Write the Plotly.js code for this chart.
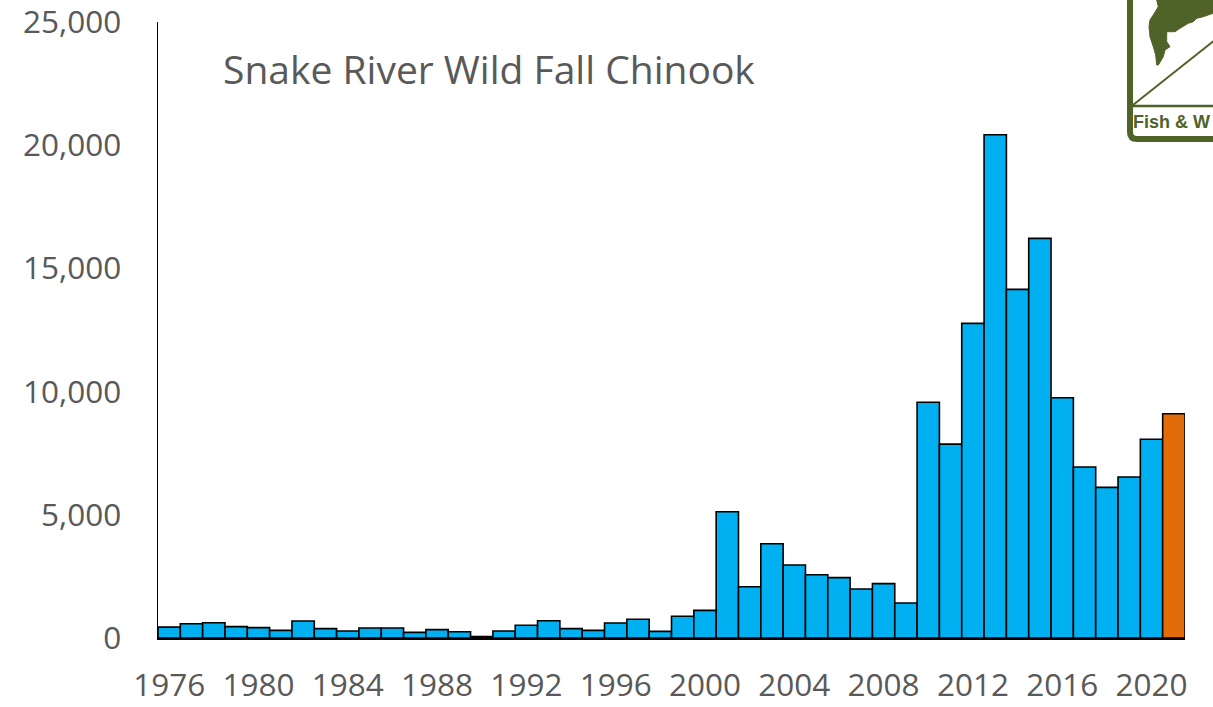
<!DOCTYPE html>
<html>
<head>
<meta charset="utf-8">
<script src="https://cdn.plot.ly/plotly-3.0.1.min.js"></script>
<style>html,body{margin:0;padding:0;background:#fff;overflow:hidden}#chart{width:1213px;height:707px}</style>
</head>
<body>
<div id="chart"></div>
<script>
// ---- data ----
const years = [1976,1977,1978,1979,1980,1981,1982,1983,1984,1985,1986,1987,1988,1989,1990,1991,1992,1993,1994,1995,1996,1997,1998,1999,2000,2001,2002,2003,2004,2005,2006,2007,2008,2009,2010,2011,2012,2013,2014,2015,2016,2017,2018,2019,2020,2021];
const counts = [440,580,620,460,420,310,690,380,285,405,405,230,340,255,60,285,515,700,380,310,610,760,270,880,1120,5125,2080,3825,2960,2570,2450,1990,2205,1420,9565,7870,12770,20425,14150,16220,9750,6940,6115,6535,8065,9100];
const tickYears = [1976,1980,1984,1988,1992,1996,2000,2004,2008,2012,2016,2020];
const tickLabels = ["1976","1980","1984","1988","1992","1996","2000","2004","2008","2012","2016","2020"];
const yTicks = [0,5000,10000,15000,20000,25000];
const yTickLabels = ["0","5,000","10,000","15,000","20,000","25,000"];
const chartTitle = "Snake River Wild Fall Chinook";
const logoText = "Fish & W";
const latestYear = 2021;

// ---- layout helpers (pixel -> paper) ----
const L = 158, R = 1185, T = 22, B = 638;
const px = x => (x - L) / (R - L);
const py = y => (B - y) / (B - T);
function pathPx(cmds) {
  return cmds.map(c => {
    if (typeof c === 'string') return c;
    return px(c[0]).toFixed(5) + ',' + py(c[1]).toFixed(5);
  }).join(' ');
}

const blue = '#00B0F0', orange = '#E36C0A', green = '#4F6228';
const colors = years.map(y => y === latestYear ? orange : blue);

const trace = {
  type: 'bar',
  x: years,
  y: counts,
  marker: {color: colors, line: {color: '#000000', width: 1.6}},
  hoverinfo: 'x+y'
};

const fishPts = [[1156.7,0],[1158.3,6.7],[1153.3,15],[1150,20],[1149,26.7],[1150,36.7],[1153.3,46.7],[1155.7,55],[1156.7,65],[1158.3,65],[1163.3,56.7],[1165,50],[1170,46.7],[1166.7,41.7],[1166.7,31.7],[1175,31.7],[1180,28.3],[1188.3,23.3],[1193.3,21.7],[1196.7,18.3],[1203.3,16.7],[1213,13.3],[1216,13.3],[1216,0]];
const fishCmds = [];
fishPts.forEach((p, i) => { fishCmds.push(i === 0 ? 'M' : 'L'); fishCmds.push(p); });
fishCmds.push('Z');
const fishPath = pathPx(fishCmds);
const logoBorder = pathPx(['M',[1130,-5],'L',[1130,132],'Q',[1130,139],[1137,139],'L',[1220,139]]);

const layout = {
  width: 1213, height: 707,
  margin: {l: L, r: 1213 - R, t: T, b: 707 - B, pad: 0},
  paper_bgcolor: '#ffffff', plot_bgcolor: '#ffffff',
  showlegend: false,
  bargap: 0,
  font: {family: 'Open Sans, sans-serif', color: '#595959'},
  xaxis: {
    range: [1975.5, 2021.5],
    tickmode: 'array', tickvals: tickYears, ticktext: tickLabels,
    showgrid: false, zeroline: false,
    showline: true, linecolor: '#000000', linewidth: 1.5,
    ticks: '', ticklabelstandoff: 19, ticklabeloverflow: 'allow',
    tickfont: {family: 'Open Sans, sans-serif', size: 31.5, color: '#595959'}
  },
  yaxis: {
    range: [0, 25000],
    tickmode: 'array', tickvals: yTicks, ticktext: yTickLabels,
    showgrid: false, zeroline: false,
    showline: true, linecolor: '#000000', linewidth: 1.5,
    ticks: '', ticklabelstandoff: 29, ticklabeloverflow: 'allow',
    tickfont: {family: 'Open Sans, sans-serif', size: 31.5, color: '#595959'}
  },
  annotations: [
    {xref: 'paper', yref: 'paper', x: px(221), y: py(68), xanchor: 'left', yanchor: 'middle',
     text: chartTitle, showarrow: false, font: {family: 'Open Sans, sans-serif', size: 39, color: '#595959'}},
    {xref: 'paper', yref: 'paper', x: px(1212), y: py(122), xanchor: 'right', yanchor: 'middle',
     text: '<b>' + logoText + '</b>', showarrow: false, font: {family: 'Liberation Sans, Arial, sans-serif', size: 18, color: green}}
  ],
  shapes: [
    {type: 'path', xref: 'paper', yref: 'paper', path: logoBorder, line: {color: green, width: 6}},
    {type: 'line', xref: 'paper', yref: 'paper', x0: px(1133), y0: py(106), x1: px(1220), y1: py(106), line: {color: green, width: 2.5}},
    {type: 'line', xref: 'paper', yref: 'paper', x0: px(1133), y0: py(105), x1: px(1220), y1: py(36), line: {color: green, width: 2}},
    {type: 'path', xref: 'paper', yref: 'paper', path: fishPath, fillcolor: green, line: {color: green, width: 1}}
  ]
};

Plotly.newPlot('chart', [trace], layout, {displayModeBar: false, staticPlot: true});
</script>
</body>
</html>
